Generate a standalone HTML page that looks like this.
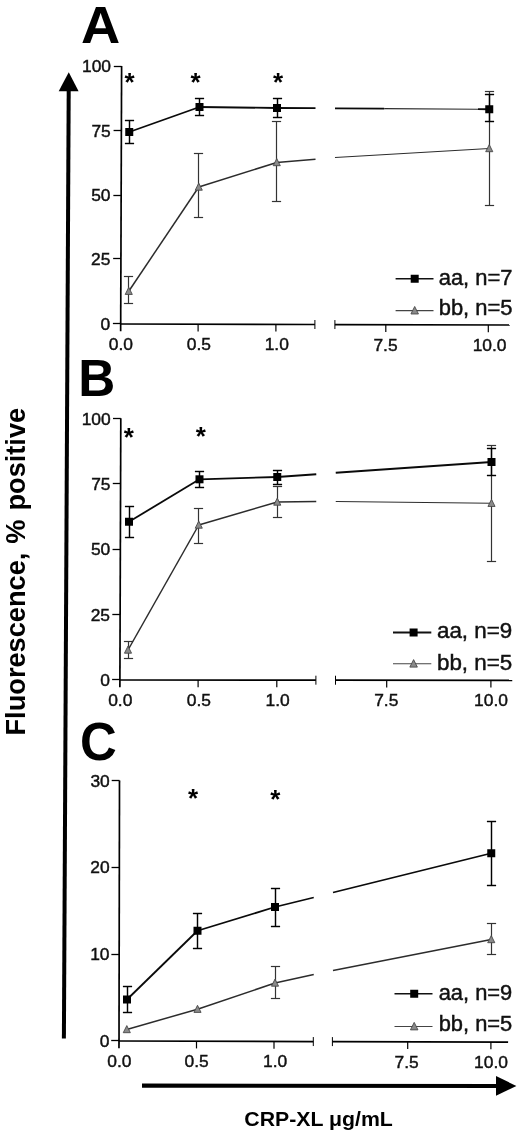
<!DOCTYPE html>
<html lang="en"><head><meta charset="utf-8"><title>Figure</title>
<style>html,body{margin:0;padding:0;background:#fff}svg{display:block;will-change:transform}</style>
</head><body>
<svg width="520" height="1137" viewBox="0 0 520 1137" font-family='"Liberation Sans", sans-serif'>
<rect width="520" height="1137" fill="#fff"/>
<line x1="68.7" y1="90" x2="63.9" y2="1038.5" stroke="#000" stroke-width="4"/>
<polygon points="68.75,72.2 78.6,91.3 58.7,91.3" fill="#000"/>
<line x1="142" y1="1085.6" x2="498" y2="1086" stroke="#000" stroke-width="4.2"/>
<polygon points="516.4,1086 496,1076 496,1095.8" fill="#000"/>
<line x1="121.6" y1="66.1" x2="120.67" y2="331.2" stroke="#000" stroke-width="1.7" />
<line x1="113.8" y1="66.5" x2="121.6" y2="66.5" stroke="#000" stroke-width="1.3" />
<text x="111" y="72.2" font-size="17.4" text-anchor="end" font-weight="normal" fill="#111"  stroke="#111" stroke-width="0.45">100</text>
<line x1="113.57" y1="130.5" x2="121.37" y2="130.5" stroke="#000" stroke-width="1.3" />
<text x="110.77" y="136.6" font-size="17.4" text-anchor="end" font-weight="normal" fill="#111"  stroke="#111" stroke-width="0.45">75</text>
<line x1="113.35" y1="195.5" x2="121.15" y2="195.5" stroke="#000" stroke-width="1.3" />
<text x="110.55" y="201" font-size="17.4" text-anchor="end" font-weight="normal" fill="#111"  stroke="#111" stroke-width="0.45">50</text>
<line x1="113.13" y1="258.5" x2="120.93" y2="258.5" stroke="#000" stroke-width="1.3" />
<text x="110.33" y="264.6" font-size="17.4" text-anchor="end" font-weight="normal" fill="#111"  stroke="#111" stroke-width="0.45">25</text>
<line x1="112.9" y1="323.5" x2="120.7" y2="323.5" stroke="#000" stroke-width="1.3" />
<text x="110.1" y="329.6" font-size="17.4" text-anchor="end" font-weight="normal" fill="#111"  stroke="#111" stroke-width="0.45">0</text>
<line x1="120.7" y1="324" x2="314.9" y2="324.5" stroke="#000" stroke-width="1.7" />
<line x1="334.9" y1="324.55" x2="509.75" y2="325" stroke="#000" stroke-width="1.7" />
<line x1="314.9" y1="320" x2="314.9" y2="329" stroke="#000" stroke-width="1.0" />
<line x1="334.9" y1="320.05" x2="334.9" y2="329.05" stroke="#000" stroke-width="1.0" />
<text x="120.9" y="350" font-size="17.4" text-anchor="middle" font-weight="normal" fill="#111"  stroke="#111" stroke-width="0.45">0.0</text>
<line x1="198.1" y1="324.2" x2="198.1" y2="331.4" stroke="#000" stroke-width="1.2" />
<text x="198.9" y="350.2" font-size="17.4" text-anchor="middle" font-weight="normal" fill="#111"  stroke="#111" stroke-width="0.45">0.5</text>
<line x1="275.9" y1="324.4" x2="275.9" y2="331.6" stroke="#000" stroke-width="1.2" />
<text x="276.8" y="350.4" font-size="17.4" text-anchor="middle" font-weight="normal" fill="#111"  stroke="#111" stroke-width="0.45">1.0</text>
<line x1="385.8" y1="324.68" x2="385.8" y2="331.88" stroke="#000" stroke-width="1.2" />
<text x="385.5" y="350.68" font-size="17.4" text-anchor="middle" font-weight="normal" fill="#111"  stroke="#111" stroke-width="0.45">7.5</text>
<line x1="488.3" y1="324.94" x2="488.3" y2="332.14" stroke="#000" stroke-width="1.2" />
<text x="489.6" y="350.95" font-size="17.4" text-anchor="middle" font-weight="normal" fill="#111"  stroke="#111" stroke-width="0.45">10.0</text>
<line x1="128.5" y1="276.5" x2="128.5" y2="303.5" stroke="#333" stroke-width="1.2" />
<line x1="123.9" y1="276.5" x2="133.1" y2="276.5" stroke="#333" stroke-width="1.2" />
<line x1="123.9" y1="303.5" x2="133.1" y2="303.5" stroke="#333" stroke-width="1.2" />
<line x1="198.5" y1="153.5" x2="198.5" y2="217.5" stroke="#333" stroke-width="1.2" />
<line x1="193.9" y1="153.5" x2="203.1" y2="153.5" stroke="#333" stroke-width="1.2" />
<line x1="193.9" y1="217.5" x2="203.1" y2="217.5" stroke="#333" stroke-width="1.2" />
<line x1="276.5" y1="121.5" x2="276.5" y2="201.5" stroke="#333" stroke-width="1.2" />
<line x1="271.9" y1="121.5" x2="281.1" y2="121.5" stroke="#333" stroke-width="1.2" />
<line x1="271.9" y1="201.5" x2="281.1" y2="201.5" stroke="#333" stroke-width="1.2" />
<line x1="489.5" y1="91.5" x2="489.5" y2="205.5" stroke="#333" stroke-width="1.2" />
<line x1="484.9" y1="91.5" x2="494.1" y2="91.5" stroke="#333" stroke-width="1.2" />
<line x1="484.9" y1="205.5" x2="494.1" y2="205.5" stroke="#333" stroke-width="1.2" />
<line x1="128.75" y1="291.25" x2="198.75" y2="187" stroke="#2c2c2c" stroke-width="1.5" />
<line x1="198.75" y1="187" x2="276.75" y2="162.5" stroke="#2c2c2c" stroke-width="1.5" />
<line x1="276.75" y1="162.5" x2="315.5" y2="159.25" stroke="#2c2c2c" stroke-width="1.5" />
<line x1="335" y1="157.5" x2="489.25" y2="148.5" stroke="#2c2c2c" stroke-width="1.2" />
<polygon points="128.75,287.35 132.3,294.44 125.2,294.44" fill="#8a8a8a" stroke="#484848" stroke-width="0.9" stroke-linejoin="miter"/>
<polygon points="198.75,183.09 202.3,190.19 195.2,190.19" fill="#8a8a8a" stroke="#484848" stroke-width="0.9" stroke-linejoin="miter"/>
<polygon points="276.75,158.59 280.3,165.69 273.2,165.69" fill="#8a8a8a" stroke="#484848" stroke-width="0.9" stroke-linejoin="miter"/>
<polygon points="489.25,144.59 492.8,151.69 485.7,151.69" fill="#8a8a8a" stroke="#484848" stroke-width="0.9" stroke-linejoin="miter"/>
<line x1="129.5" y1="120.5" x2="129.5" y2="143.5" stroke="#000" stroke-width="1.45" />
<line x1="124.9" y1="120.5" x2="134.1" y2="120.5" stroke="#000" stroke-width="1.45" />
<line x1="124.9" y1="143.5" x2="134.1" y2="143.5" stroke="#000" stroke-width="1.45" />
<line x1="199.5" y1="98.5" x2="199.5" y2="115.5" stroke="#000" stroke-width="1.45" />
<line x1="194.9" y1="98.5" x2="204.1" y2="98.5" stroke="#000" stroke-width="1.45" />
<line x1="194.9" y1="115.5" x2="204.1" y2="115.5" stroke="#000" stroke-width="1.45" />
<line x1="277.5" y1="98.5" x2="277.5" y2="117.5" stroke="#000" stroke-width="1.45" />
<line x1="272.9" y1="98.5" x2="282.1" y2="98.5" stroke="#000" stroke-width="1.45" />
<line x1="272.9" y1="117.5" x2="282.1" y2="117.5" stroke="#000" stroke-width="1.45" />
<line x1="489.5" y1="94.5" x2="489.5" y2="121.5" stroke="#000" stroke-width="1.45" />
<line x1="484.9" y1="94.5" x2="494.1" y2="94.5" stroke="#000" stroke-width="1.45" />
<line x1="484.9" y1="121.5" x2="494.1" y2="121.5" stroke="#000" stroke-width="1.45" />
<line x1="129.25" y1="132" x2="199.5" y2="107" stroke="#0a0a0a" stroke-width="1.8" />
<line x1="199.5" y1="107" x2="277" y2="108" stroke="#0a0a0a" stroke-width="1.8" />
<line x1="277" y1="108" x2="315.5" y2="108.2" stroke="#0a0a0a" stroke-width="1.8" />
<line x1="335" y1="108.3" x2="384.2" y2="108.6" stroke="#0a0a0a" stroke-width="1.8" />
<line x1="384.2" y1="108.6" x2="478" y2="109.18" stroke="#2a2a2a" stroke-width="1.1" />
<line x1="478" y1="109.18" x2="489.25" y2="109.25" stroke="#0a0a0a" stroke-width="1.8" />
<rect x="125.25" y="128" width="8" height="8" fill="#000"/>
<rect x="195.5" y="103" width="8" height="8" fill="#000"/>
<rect x="273" y="104" width="8" height="8" fill="#000"/>
<rect x="485.25" y="105.25" width="8" height="8" fill="#000"/>
<text x="129.5" y="91.4" font-size="26" text-anchor="middle" font-weight="bold" fill="#000" >*</text>
<text x="195.5" y="91.4" font-size="26" text-anchor="middle" font-weight="bold" fill="#000" >*</text>
<text x="278" y="91.4" font-size="26" text-anchor="middle" font-weight="bold" fill="#000" >*</text>
<line x1="395.6" y1="278.75" x2="433.5" y2="278.75" stroke="#111" stroke-width="1.3" />
<rect x="410.7" y="274.75" width="8" height="8" fill="#000"/>
<text x="438.7" y="285" font-size="21.3" text-anchor="start" font-weight="normal" fill="#111" textLength="73.8" lengthAdjust="spacingAndGlyphs" stroke="#111" stroke-width="0.45">aa, n=7</text>
<line x1="395.6" y1="310.6" x2="433.5" y2="310.6" stroke="#444" stroke-width="1.1" />
<polygon points="414.7,306.48 418.45,313.98 410.95,313.98" fill="#8a8a8a" stroke="#484848" stroke-width="0.9" stroke-linejoin="miter"/>
<text x="438.7" y="315.3" font-size="21.3" text-anchor="start" font-weight="normal" fill="#111" textLength="73.8" lengthAdjust="spacingAndGlyphs" stroke="#111" stroke-width="0.45">bb, n=5</text>
<text transform="translate(81,43) scale(1.035,1)" font-size="52.5" font-weight="bold" fill="#000">A</text>
<line x1="120.8" y1="418.25" x2="119.88" y2="687.2" stroke="#000" stroke-width="1.7" />
<line x1="113" y1="418.5" x2="120.8" y2="418.5" stroke="#000" stroke-width="1.3" />
<text x="110.7" y="424.9" font-size="17.4" text-anchor="end" font-weight="normal" fill="#111"  stroke="#111" stroke-width="0.45">100</text>
<line x1="112.78" y1="483.5" x2="120.58" y2="483.5" stroke="#000" stroke-width="1.3" />
<text x="110.48" y="490.15" font-size="17.4" text-anchor="end" font-weight="normal" fill="#111"  stroke="#111" stroke-width="0.45">75</text>
<line x1="112.55" y1="549.5" x2="120.35" y2="549.5" stroke="#000" stroke-width="1.3" />
<text x="110.25" y="555.45" font-size="17.4" text-anchor="end" font-weight="normal" fill="#111"  stroke="#111" stroke-width="0.45">50</text>
<line x1="112.32" y1="614.5" x2="120.12" y2="614.5" stroke="#000" stroke-width="1.3" />
<text x="110.02" y="620.85" font-size="17.4" text-anchor="end" font-weight="normal" fill="#111"  stroke="#111" stroke-width="0.45">25</text>
<line x1="112.1" y1="679.5" x2="119.9" y2="679.5" stroke="#000" stroke-width="1.3" />
<text x="109.8" y="686.15" font-size="17.4" text-anchor="end" font-weight="normal" fill="#111"  stroke="#111" stroke-width="0.45">0</text>
<line x1="119.9" y1="680" x2="315.9" y2="680.2" stroke="#000" stroke-width="1.7" />
<line x1="335.5" y1="680.22" x2="512.25" y2="680.4" stroke="#000" stroke-width="1.7" />
<line x1="315.9" y1="675.7" x2="315.9" y2="684.7" stroke="#000" stroke-width="1.0" />
<line x1="335.5" y1="675.72" x2="335.5" y2="684.72" stroke="#000" stroke-width="1.0" />
<text x="120.3" y="706" font-size="17.4" text-anchor="middle" font-weight="normal" fill="#111"  stroke="#111" stroke-width="0.45">0.0</text>
<line x1="198.1" y1="680.08" x2="198.1" y2="687.28" stroke="#000" stroke-width="1.2" />
<text x="198.9" y="706.08" font-size="17.4" text-anchor="middle" font-weight="normal" fill="#111"  stroke="#111" stroke-width="0.45">0.5</text>
<line x1="276.8" y1="680.16" x2="276.8" y2="687.36" stroke="#000" stroke-width="1.2" />
<text x="277.6" y="706.16" font-size="17.4" text-anchor="middle" font-weight="normal" fill="#111"  stroke="#111" stroke-width="0.45">1.0</text>
<line x1="386.7" y1="680.27" x2="386.7" y2="687.47" stroke="#000" stroke-width="1.2" />
<text x="386.3" y="706.27" font-size="17.4" text-anchor="middle" font-weight="normal" fill="#111"  stroke="#111" stroke-width="0.45">7.5</text>
<line x1="490.9" y1="680.38" x2="490.9" y2="687.58" stroke="#000" stroke-width="1.2" />
<text x="491" y="706.38" font-size="17.4" text-anchor="middle" font-weight="normal" fill="#111"  stroke="#111" stroke-width="0.45">10.0</text>
<line x1="128.5" y1="641.5" x2="128.5" y2="658.5" stroke="#333" stroke-width="1.2" />
<line x1="123.9" y1="641.5" x2="133.1" y2="641.5" stroke="#333" stroke-width="1.2" />
<line x1="123.9" y1="658.5" x2="133.1" y2="658.5" stroke="#333" stroke-width="1.2" />
<line x1="198.5" y1="508.5" x2="198.5" y2="543.5" stroke="#333" stroke-width="1.2" />
<line x1="193.9" y1="508.5" x2="203.1" y2="508.5" stroke="#333" stroke-width="1.2" />
<line x1="193.9" y1="543.5" x2="203.1" y2="543.5" stroke="#333" stroke-width="1.2" />
<line x1="277.5" y1="486.5" x2="277.5" y2="517.5" stroke="#333" stroke-width="1.2" />
<line x1="272.9" y1="486.5" x2="282.1" y2="486.5" stroke="#333" stroke-width="1.2" />
<line x1="272.9" y1="517.5" x2="282.1" y2="517.5" stroke="#333" stroke-width="1.2" />
<line x1="491.5" y1="445.5" x2="491.5" y2="561.5" stroke="#333" stroke-width="1.2" />
<line x1="486.9" y1="445.5" x2="496.1" y2="445.5" stroke="#333" stroke-width="1.2" />
<line x1="486.9" y1="561.5" x2="496.1" y2="561.5" stroke="#333" stroke-width="1.2" />
<line x1="128" y1="650" x2="198.75" y2="525" stroke="#2c2c2c" stroke-width="1.5" />
<line x1="198.75" y1="525" x2="277.25" y2="502" stroke="#2c2c2c" stroke-width="1.5" />
<line x1="277.25" y1="502" x2="316.25" y2="501.5" stroke="#2c2c2c" stroke-width="1.5" />
<line x1="335.75" y1="501.5" x2="491.5" y2="503.25" stroke="#2c2c2c" stroke-width="1.2" />
<polygon points="128,646.1 131.55,653.2 124.45,653.2" fill="#8a8a8a" stroke="#484848" stroke-width="0.9" stroke-linejoin="miter"/>
<polygon points="198.75,521.1 202.3,528.2 195.2,528.2" fill="#8a8a8a" stroke="#484848" stroke-width="0.9" stroke-linejoin="miter"/>
<polygon points="277.25,498.1 280.8,505.19 273.7,505.19" fill="#8a8a8a" stroke="#484848" stroke-width="0.9" stroke-linejoin="miter"/>
<polygon points="491.5,499.35 495.05,506.44 487.95,506.44" fill="#8a8a8a" stroke="#484848" stroke-width="0.9" stroke-linejoin="miter"/>
<line x1="129.5" y1="506.5" x2="129.5" y2="537.5" stroke="#000" stroke-width="1.45" />
<line x1="124.9" y1="506.5" x2="134.1" y2="506.5" stroke="#000" stroke-width="1.45" />
<line x1="124.9" y1="537.5" x2="134.1" y2="537.5" stroke="#000" stroke-width="1.45" />
<line x1="199.5" y1="471.5" x2="199.5" y2="487.5" stroke="#000" stroke-width="1.45" />
<line x1="194.9" y1="471.5" x2="204.1" y2="471.5" stroke="#000" stroke-width="1.45" />
<line x1="194.9" y1="487.5" x2="204.1" y2="487.5" stroke="#000" stroke-width="1.45" />
<line x1="277.5" y1="470.5" x2="277.5" y2="484.5" stroke="#000" stroke-width="1.45" />
<line x1="272.9" y1="470.5" x2="282.1" y2="470.5" stroke="#000" stroke-width="1.45" />
<line x1="272.9" y1="484.5" x2="282.1" y2="484.5" stroke="#000" stroke-width="1.45" />
<line x1="491.5" y1="448.5" x2="491.5" y2="475.5" stroke="#000" stroke-width="1.45" />
<line x1="486.9" y1="448.5" x2="496.1" y2="448.5" stroke="#000" stroke-width="1.45" />
<line x1="486.9" y1="475.5" x2="496.1" y2="475.5" stroke="#000" stroke-width="1.45" />
<line x1="129" y1="521.75" x2="199.5" y2="479.3" stroke="#0a0a0a" stroke-width="1.8" />
<line x1="199.5" y1="479.3" x2="277.25" y2="477" stroke="#0a0a0a" stroke-width="1.8" />
<line x1="277.25" y1="477" x2="316.25" y2="474.25" stroke="#0a0a0a" stroke-width="1.8" />
<line x1="335.75" y1="472.75" x2="491.5" y2="462" stroke="#0a0a0a" stroke-width="1.8" />
<rect x="125" y="517.75" width="8" height="8" fill="#000"/>
<rect x="195.5" y="475.3" width="8" height="8" fill="#000"/>
<rect x="273.25" y="473" width="8" height="8" fill="#000"/>
<rect x="487.5" y="458" width="8" height="8" fill="#000"/>
<text x="128.75" y="445.9" font-size="26" text-anchor="middle" font-weight="bold" fill="#000" >*</text>
<text x="200.75" y="444.65" font-size="26" text-anchor="middle" font-weight="bold" fill="#000" >*</text>
<line x1="393" y1="632.5" x2="431.3" y2="632.5" stroke="#111" stroke-width="1.8" />
<rect x="409.6" y="628.5" width="8" height="8" fill="#000"/>
<text x="437" y="638.3" font-size="21.3" text-anchor="start" font-weight="normal" fill="#111" textLength="75.2" lengthAdjust="spacingAndGlyphs" stroke="#111" stroke-width="0.45">aa, n=9</text>
<line x1="393" y1="663.75" x2="431.3" y2="663.75" stroke="#444" stroke-width="1.1" />
<polygon points="413.6,659.62 417.35,667.12 409.85,667.12" fill="#8a8a8a" stroke="#484848" stroke-width="0.9" stroke-linejoin="miter"/>
<text x="437" y="669.5" font-size="21.3" text-anchor="start" font-weight="normal" fill="#111" textLength="75.2" lengthAdjust="spacingAndGlyphs" stroke="#111" stroke-width="0.45">bb, n=5</text>
<text transform="translate(78.25,396.25) scale(0.977,1)" font-size="52.5" font-weight="bold" fill="#000">B</text>
<line x1="119.5" y1="780.5" x2="118.99" y2="1048.2" stroke="#000" stroke-width="1.7" />
<line x1="111.7" y1="780.5" x2="119.5" y2="780.5" stroke="#000" stroke-width="1.3" />
<text x="109.8" y="786.6" font-size="17.4" text-anchor="end" font-weight="normal" fill="#111"  stroke="#111" stroke-width="0.45">30</text>
<line x1="111.53" y1="867.5" x2="119.33" y2="867.5" stroke="#000" stroke-width="1.3" />
<text x="109.63" y="873.3" font-size="17.4" text-anchor="end" font-weight="normal" fill="#111"  stroke="#111" stroke-width="0.45">20</text>
<line x1="111.37" y1="954.5" x2="119.17" y2="954.5" stroke="#000" stroke-width="1.3" />
<text x="109.47" y="959.9" font-size="17.4" text-anchor="end" font-weight="normal" fill="#111"  stroke="#111" stroke-width="0.45">10</text>
<line x1="111.2" y1="1040.5" x2="119" y2="1040.5" stroke="#000" stroke-width="1.3" />
<text x="109.3" y="1046.6" font-size="17.4" text-anchor="end" font-weight="normal" fill="#111"  stroke="#111" stroke-width="0.45">0</text>
<line x1="119" y1="1041" x2="313.3" y2="1041.55" stroke="#000" stroke-width="1.7" />
<line x1="332.4" y1="1041.6" x2="508.1" y2="1042.1" stroke="#000" stroke-width="1.7" />
<line x1="313.3" y1="1037.05" x2="313.3" y2="1046.05" stroke="#000" stroke-width="1.0" />
<line x1="332.4" y1="1037.1" x2="332.4" y2="1046.1" stroke="#000" stroke-width="1.0" />
<text x="119.4" y="1067" font-size="17.4" text-anchor="middle" font-weight="normal" fill="#111"  stroke="#111" stroke-width="0.45">0.0</text>
<line x1="196.5" y1="1041.22" x2="196.5" y2="1048.42" stroke="#000" stroke-width="1.2" />
<text x="196.7" y="1067.22" font-size="17.4" text-anchor="middle" font-weight="normal" fill="#111"  stroke="#111" stroke-width="0.45">0.5</text>
<line x1="274" y1="1041.44" x2="274" y2="1048.64" stroke="#000" stroke-width="1.2" />
<text x="275.2" y="1067.44" font-size="17.4" text-anchor="middle" font-weight="normal" fill="#111"  stroke="#111" stroke-width="0.45">1.0</text>
<line x1="407.7" y1="1041.82" x2="407.7" y2="1049.02" stroke="#000" stroke-width="1.2" />
<text x="406.7" y="1067.81" font-size="17.4" text-anchor="middle" font-weight="normal" fill="#111"  stroke="#111" stroke-width="0.45">7.5</text>
<line x1="490.9" y1="1042.05" x2="490.9" y2="1049.25" stroke="#000" stroke-width="1.2" />
<text x="491" y="1068.05" font-size="17.4" text-anchor="middle" font-weight="normal" fill="#111"  stroke="#111" stroke-width="0.45">10.0</text>
<line x1="275.5" y1="966.5" x2="275.5" y2="998.5" stroke="#333" stroke-width="1.2" />
<line x1="270.9" y1="966.5" x2="280.1" y2="966.5" stroke="#333" stroke-width="1.2" />
<line x1="270.9" y1="998.5" x2="280.1" y2="998.5" stroke="#333" stroke-width="1.2" />
<line x1="491.5" y1="923.5" x2="491.5" y2="954.5" stroke="#333" stroke-width="1.2" />
<line x1="486.9" y1="923.5" x2="496.1" y2="923.5" stroke="#333" stroke-width="1.2" />
<line x1="486.9" y1="954.5" x2="496.1" y2="954.5" stroke="#333" stroke-width="1.2" />
<line x1="126.8" y1="1029.5" x2="197.5" y2="1009.2" stroke="#2c2c2c" stroke-width="1.5" />
<line x1="197.5" y1="1009.2" x2="275" y2="983" stroke="#2c2c2c" stroke-width="1.5" />
<line x1="275" y1="983" x2="313.75" y2="974.5" stroke="#2c2c2c" stroke-width="1.5" />
<line x1="333" y1="970.5" x2="491.25" y2="939.5" stroke="#2c2c2c" stroke-width="1.5" />
<polygon points="126.8,1025.6 130.35,1032.69 123.25,1032.69" fill="#8a8a8a" stroke="#484848" stroke-width="0.9" stroke-linejoin="miter"/>
<polygon points="197.5,1005.3 201.05,1012.4 193.95,1012.4" fill="#8a8a8a" stroke="#484848" stroke-width="0.9" stroke-linejoin="miter"/>
<polygon points="275,979.1 278.55,986.2 271.45,986.2" fill="#8a8a8a" stroke="#484848" stroke-width="0.9" stroke-linejoin="miter"/>
<polygon points="491.25,935.6 494.8,942.7 487.7,942.7" fill="#8a8a8a" stroke="#484848" stroke-width="0.9" stroke-linejoin="miter"/>
<line x1="127.5" y1="986.5" x2="127.5" y2="1012.5" stroke="#000" stroke-width="1.45" />
<line x1="122.9" y1="986.5" x2="132.1" y2="986.5" stroke="#000" stroke-width="1.45" />
<line x1="122.9" y1="1012.5" x2="132.1" y2="1012.5" stroke="#000" stroke-width="1.45" />
<line x1="197.5" y1="913.5" x2="197.5" y2="948.5" stroke="#000" stroke-width="1.45" />
<line x1="192.9" y1="913.5" x2="202.1" y2="913.5" stroke="#000" stroke-width="1.45" />
<line x1="192.9" y1="948.5" x2="202.1" y2="948.5" stroke="#000" stroke-width="1.45" />
<line x1="275.5" y1="888.5" x2="275.5" y2="926.5" stroke="#000" stroke-width="1.45" />
<line x1="270.9" y1="888.5" x2="280.1" y2="888.5" stroke="#000" stroke-width="1.45" />
<line x1="270.9" y1="926.5" x2="280.1" y2="926.5" stroke="#000" stroke-width="1.45" />
<line x1="491.5" y1="821.5" x2="491.5" y2="885.5" stroke="#000" stroke-width="1.45" />
<line x1="486.9" y1="821.5" x2="496.1" y2="821.5" stroke="#000" stroke-width="1.45" />
<line x1="486.9" y1="885.5" x2="496.1" y2="885.5" stroke="#000" stroke-width="1.45" />
<line x1="127" y1="999.5" x2="197.5" y2="930.75" stroke="#0a0a0a" stroke-width="1.8" />
<line x1="197.5" y1="930.75" x2="275" y2="907" stroke="#0a0a0a" stroke-width="1.8" />
<line x1="275" y1="907" x2="313.75" y2="897.5" stroke="#0a0a0a" stroke-width="1.8" />
<line x1="333" y1="892.5" x2="491.25" y2="853.25" stroke="#0a0a0a" stroke-width="1.8" />
<rect x="123" y="995.5" width="8" height="8" fill="#000"/>
<rect x="193.5" y="926.75" width="8" height="8" fill="#000"/>
<rect x="271" y="903" width="8" height="8" fill="#000"/>
<rect x="487.25" y="849.25" width="8" height="8" fill="#000"/>
<text x="193" y="807.15" font-size="26" text-anchor="middle" font-weight="bold" fill="#000" >*</text>
<text x="275.25" y="808.4" font-size="26" text-anchor="middle" font-weight="bold" fill="#000" >*</text>
<line x1="394.5" y1="993.75" x2="432.5" y2="993.75" stroke="#111" stroke-width="1.6" />
<rect x="410.2" y="989.75" width="8" height="8" fill="#000"/>
<text x="438.7" y="999.5" font-size="21.3" text-anchor="start" font-weight="normal" fill="#111" textLength="73.6" lengthAdjust="spacingAndGlyphs" stroke="#111" stroke-width="0.45">aa, n=9</text>
<line x1="394.5" y1="1026.5" x2="432.5" y2="1026.5" stroke="#444" stroke-width="1.1" />
<polygon points="414.2,1022.38 417.95,1029.88 410.45,1029.88" fill="#8a8a8a" stroke="#484848" stroke-width="0.9" stroke-linejoin="miter"/>
<text x="438.7" y="1030.5" font-size="21.3" text-anchor="start" font-weight="normal" fill="#111" textLength="73.6" lengthAdjust="spacingAndGlyphs" stroke="#111" stroke-width="0.45">bb, n=5</text>
<text transform="translate(79.9,760) scale(0.94,1)" font-size="54.2" font-weight="bold" fill="#000">C</text>
<text transform="translate(24.8,735.5) rotate(-90)" font-size="27.2" font-weight="bold" fill="#000" word-spacing="1.4">Fluorescence, % positive</text>
<text x="244.3" y="1125.9" font-size="19.4" font-weight="bold" fill="#000" textLength="148.5" lengthAdjust="spacingAndGlyphs">CRP-XL μg/mL</text>
</svg>
</body></html>
